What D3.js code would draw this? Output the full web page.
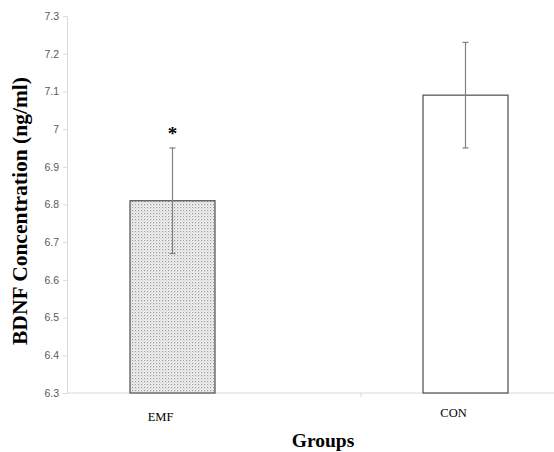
<!DOCTYPE html>
<html>
<head>
<meta charset="utf-8">
<script src="https://cdn.jsdelivr.net/npm/d3@7"></script>
<style>
  body { margin: 0; background: #fff; }
</style>
</head>
<body>
<div id="chart"></div>
<script>
const groups = ["EMF", "CON"];
const means = [6.81, 7.09];
const errors = [0.14, 0.14];
const marks = ["*", ""];
const yTicks = [6.3, 6.4, 6.5, 6.6, 6.7, 6.8, 6.9, 7, 7.1, 7.2, 7.3];

const width = 554, height = 452,
      margin = ({ top: 16, left: 67, bottom: 59 });

let svg = d3.select("#chart")
    .append("svg")
    .attr("width", width)
    .attr("height", height);

// dotted fill for EMF bar
let pat = svg.append("defs").append("pattern")
    .attr("id", "dots")
    .attr("width", 3).attr("height", 3)
    .attr("patternUnits", "userSpaceOnUse");
pat.append("rect").attr("width", 3).attr("height", 3).attr("fill", "#f2f2f2");
pat.append("rect").attr("x", 0).attr("y", 0).attr("width", 1.2).attr("height", 1.2).attr("fill", "#9a9a9a");
pat.append("rect").attr("x", 1.5).attr("y", 1.5).attr("width", 1).attr("height", 1).attr("fill", "#bdbdbd");

// category bands (the plot is cropped on the right, like the original)
let x = d3.scaleBand()
    .domain(groups)
    .range([26, 612]);

let y = d3.scaleLinear()
    .domain([6.3, 7.3])
    .range([height - margin.bottom, margin.top]);

// y axis
let yAxis = svg.append("g")
    .attr("transform", `translate(${margin.left},0)`)
    .call(d3.axisLeft(y).tickValues(yTicks).tickSize(4).tickSizeOuter(0).tickFormat(d3.format("")));
yAxis.select(".domain").attr("stroke", "#d9d9d9");
yAxis.selectAll(".tick line").attr("stroke", "#d9d9d9");
yAxis.selectAll(".tick text")
    .attr("x", -8)
    .attr("fill", "#595959")
    .style("font-family", "Liberation Sans, Arial, sans-serif")
    .style("font-size", "10.5px");

// x axis baseline
svg.append("line")
    .attr("x1", margin.left).attr("x2", width)
    .attr("y1", y(6.3)).attr("y2", y(6.3))
    .attr("stroke", "#d9d9d9");
// small tick between the categories
svg.append("line")
    .attr("x1", x("CON") + 42).attr("x2", x("CON") + 42)
    .attr("y1", y(6.3)).attr("y2", y(6.3) + 4)
    .attr("stroke", "#d9d9d9");

const barW = x.bandwidth() * 0.29;

let bar = svg.selectAll(".bar")
    .data(groups.map((g, i) => ({ g, m: means[i], e: errors[i], mark: marks[i] })))
    .join("g")
    .attr("class", "bar");

bar.append("rect")
    .attr("x", d => x(d.g) + x.bandwidth() / 2 - barW / 2)
    .attr("y", d => y(d.m))
    .attr("width", barW)
    .attr("height", d => y(6.3) - y(d.m))
    .attr("fill", (d, i) => i === 0 ? "url(#dots)" : "#fff")
    .attr("stroke", "#595959")
    .attr("stroke-width", 1.3);

// error bars
bar.append("line")
    .attr("x1", d => x(d.g) + x.bandwidth() / 2)
    .attr("x2", d => x(d.g) + x.bandwidth() / 2)
    .attr("y1", d => y(d.m + d.e))
    .attr("y2", d => y(d.m - d.e))
    .attr("stroke", "#808080")
    .attr("stroke-width", 1.2);
bar.selectAll(".cap")
    .data(d => [d.m + d.e, d.m - d.e].map(v => ({ g: d.g, v })))
    .join("line")
    .attr("class", "cap")
    .attr("x1", d => x(d.g) + x.bandwidth() / 2 - 3)
    .attr("x2", d => x(d.g) + x.bandwidth() / 2 + 3)
    .attr("y1", d => y(d.v))
    .attr("y2", d => y(d.v))
    .attr("stroke", "#808080")
    .attr("stroke-width", 1.2);

// significance mark
bar.append("text")
    .text(d => d.mark)
    .attr("x", d => x(d.g) + x.bandwidth() / 2)
    .attr("y", d => y(d.m + d.e) - 8)
    .attr("text-anchor", "middle")
    .style("font-family", "Liberation Serif, serif")
    .style("font-weight", "bold")
    .style("font-size", "19px");

// category labels
bar.append("text")
    .text(d => d.g)
    .attr("x", d => x(d.g) + x.bandwidth() / 2 - 12)
    .attr("y", (d, i) => i === 0 ? 421 : 417)
    .attr("text-anchor", "middle")
    .style("font-family", "Liberation Serif, serif")
    .style("font-size", "12.5px");

// axis titles
svg.append("text")
    .text("Groups")
    .attr("x", 323)
    .attr("y", 447)
    .attr("text-anchor", "middle")
    .style("font-family", "Liberation Serif, serif")
    .style("font-weight", "bold")
    .style("font-size", "19.5px");

svg.append("text")
    .text("BDNF Concentration (ng/ml)")
    .attr("transform", `translate(27,${211}) rotate(-90)`)
    .attr("text-anchor", "middle")
    .style("font-family", "Liberation Serif, serif")
    .style("font-weight", "bold")
    .style("font-size", "21.5px");
</script>
</body>
</html>
